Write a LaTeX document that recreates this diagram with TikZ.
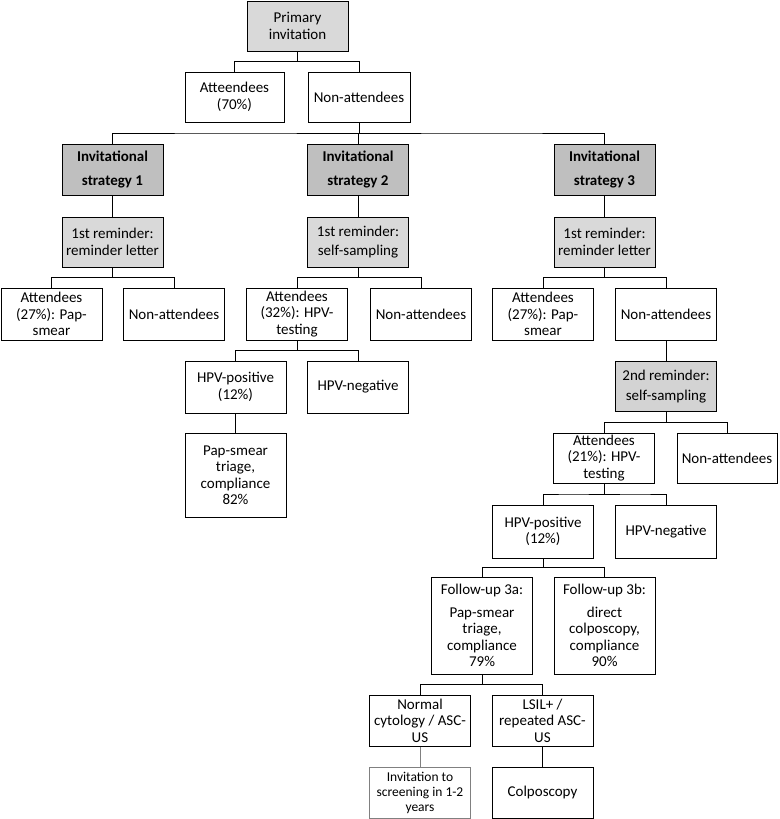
\documentclass[tikz,border=0pt]{standalone}
\usepackage{fontspec}
\setmainfont{Carlito}
\usetikzlibrary{calc}

\definecolor{stratgray}{HTML}{BFBFBF}
\definecolor{remgray}{HTML}{D9D9D9}
\definecolor{remgraydk}{HTML}{D3D3D3}

\begin{document}
\begin{tikzpicture}[
    x=1pt, y=-1pt,
    box/.style={rectangle, draw, line width=1pt, minimum width=101pt, minimum height=50pt, align=center, inner sep=1pt, font=\fontsize{15}{16.5}\selectfont},
    strat/.style={box, fill=stratgray, minimum height=51pt, font=\fontsize{15}{16.5}\selectfont\bfseries},
    remind/.style={box, fill=remgray},
    faint/.style={box, draw=gray, line width=0.8pt, font=\fontsize{13.5}{15}\selectfont},
    fork/.style={line width=1pt, to path={|- ($(\tikztostart)!0.5!(\tikztotarget)$) -| (\tikztotarget)}},
]
\useasboundingbox (0,0) rectangle (779,819);

% top level
\node[remind] (prim) at (297.5,26) {Primary\\invitation};
\node[box] (att0) at (234.5,97) [minimum width=99pt] {Atteendees\\(70\%)};
\node[box] (non0) at (359,97) [minimum width=102pt] {Non-attendees};

% strategies
\node[strat] (str1) at (112.5,169.5) {Invitational\\[8pt]strategy 1};
\node[strat] (str2) at (358,169.5)   {Invitational\\[8pt]strategy 2};
\node[strat] (str3) at (604.5,169.5) {Invitational\\[8pt]strategy 3};

\node[remind] (rem1) at (112.5,242) {1st reminder:\\reminder letter};
\node[remind] (rem2) at (358,242)   {1st reminder:\\[2pt]self-sampling};
\node[remind] (rem3) at (604.5,242) {1st reminder:\\reminder letter};

% strategy 1
\node[box, minimum height=52pt] (att1) at (51.5,314) {Attendees\\(27\%): Pap-\\smear};
\node[box, minimum height=52pt] (non1) at (174,314)  {Non-attendees};

% strategy 2
\node[box, minimum height=52pt] (att2) at (297,314)   {Attendees\\(32\%): HPV-\\testing};
\node[box, minimum height=52pt] (non2) at (421,314)   {Non-attendees};
\node[box, minimum height=52pt] (pos2) at (235.5,387) {HPV-positive\\(12\%)};
\node[box, minimum height=52pt] (neg2) at (358,387)   {HPV-negative};
\node[box, minimum height=84pt] (tri2) at (235.5,475) {Pap-smear\\triage,\\compliance\\82\%};

% strategy 3
\node[box, minimum height=52pt] (att3) at (543,314) {Attendees\\(27\%): Pap-\\smear};
\node[box, minimum height=52pt] (non3) at (666,314) {Non-attendees};
\node[remind, fill=remgraydk] (rem4) at (666,386.5) {2nd reminder:\\[4pt]self-sampling};
\node[box] (att4) at (604,458) {Attendees\\(21\%): HPV-\\testing};
\node[box, minimum width=100pt] (non4) at (727,458) {Non-attendees};
\node[box, minimum height=53pt] (pos4) at (543,531.5) {HPV-positive\\(12\%)};
\node[box, minimum height=53pt] (neg4) at (666,531.5) {HPV-negative};
\node[box, minimum height=97pt] (fu3a) at (482,625.5)   {Follow-up 3a:\\[6pt]Pap-smear\\triage,\\compliance\\79\%};
\node[box, minimum height=97pt] (fu3b) at (604.5,625.5) {Follow-up 3b:\\[6pt]direct\\colposcopy,\\compliance\\90\%};
\node[box, minimum height=51pt] (norm) at (420,720.5)   {Normal\\cytology / ASC-\\US};
\node[box, minimum height=51pt] (lsil) at (542.5,720.5) {LSIL+ /\\repeated ASC-\\US};
\node[faint, minimum height=51pt] (invt) at (420,792.5) {Invitation to\\screening in 1-2\\years};
\node[box, minimum height=51pt] (colp) at (542.5,792.5) {Colposcopy};

% connectors
\draw (prim.south) to[fork] (att0.north);
\draw (prim.south) to[fork] (non0.north);
\foreach \s in {str1,str2,str3}
  \draw (non0.south) to[fork] (\s.north);
\foreach \i in {1,2,3}
  \draw[line width=1pt] (str\i) -- (rem\i);
\draw (rem1.south) to[fork] (att1.north);
\draw (rem1.south) to[fork] (non1.north);
\draw (rem2.south) to[fork] (att2.north);
\draw (rem2.south) to[fork] (non2.north);
\draw (att2.south) to[fork] (pos2.north);
\draw (att2.south) to[fork] (neg2.north);
\draw[line width=1pt] (pos2) -- (tri2);
\draw (rem3.south) to[fork] (att3.north);
\draw (rem3.south) to[fork] (non3.north);
\draw[line width=1pt] (non3) -- (rem4);
\draw (rem4.south) to[fork] (att4.north);
\draw (rem4.south) to[fork] (non4.north);
\draw (att4.south) to[fork] (pos4.north);
\draw (att4.south) to[fork] (neg4.north);
\draw (pos4.south) to[fork] (fu3a.north);
\draw (pos4.south) to[fork] (fu3b.north);
\draw (fu3a.south) to[fork] (norm.north);
\draw (fu3a.south) to[fork] (lsil.north);
\draw[gray, line width=0.8pt] (norm) -- (invt);
\draw[line width=1pt] (lsil) -- (colp);

\end{tikzpicture}
\end{document}
